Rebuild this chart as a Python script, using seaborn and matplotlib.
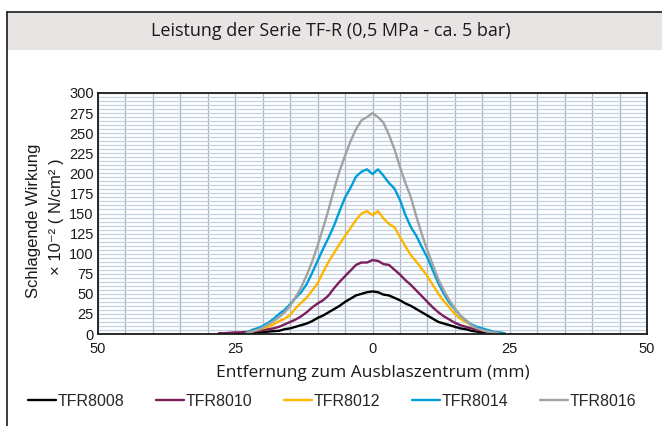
import numpy as np
import pandas as pd
import matplotlib
matplotlib.use('Agg')
import matplotlib.pyplot as plt
import seaborn as sns
from matplotlib.patches import Rectangle
from matplotlib.lines import Line2D

# Distance to the blow-off centre (mm), shared sampling grid
dist_mm = [-28, -27, -26, -25, -24, -23, -22, -21, -20, -19, -18, -17, -16, -15,
           -14, -13, -12, -11, -10, -9, -8, -7, -6, -5, -4, -3, -2, -1, 0,
           1, 2, 3, 4, 5, 6, 7, 8, 9, 10, 11, 12, 13, 14, 15, 16, 17, 18, 19,
           20, 21, 22, 23, 24]

N = None
# Impact force x 10^-2 N/cm2
tfr8008 = [N, N, N, 0.5, 0.5, 1, 1.5, 2, 2, 3, 3.5, 4, 6, 7, 9, 11, 13, 16, 20, 23,
           27, 31, 35, 40, 44, 48, 50, 52, 53, 52, 49, 48, 45, 42, 38, 35, 31, 27,
           23, 19, 15, 13, 11, 9, 7, 6, 4, 3, 2, 1.5, 1, 0.5, N]
tfr8010 = [1, 1, 1.5, 2, 2, 2.5, 3, 4, 5, 6, 7, 9, 12, 15, 18, 22, 27, 33, 38, 42,
           48, 57, 65, 72, 79, 86, 89, 89, 92, 91, 87, 86, 80, 74, 67, 61, 54, 47,
           40, 33, 27, 22, 18, 14, 11, 9, 7, 5, 4, 3, 2, 1.5, 1]
tfr8012 = [N, N, N, N, N, 1, 3, 5, 7, 9, 12, 16, 19, 24, 32, 39, 45, 54, 63, 77,
           90, 101, 112, 122, 132, 142, 150, 153, 148, 153, 144, 137, 133, 121, 109,
           98, 90, 81, 72, 61, 50, 41, 33, 25, 19, 15, 11, 8, 5, 3, 2, 1, N]
tfr8014 = [N, N, N, N, N, 1, 5, 7, 10, 14, 19, 25, 30, 37, 45, 52, 62, 76, 91, 106,
           120, 135, 153, 170, 182, 196, 202, 205, 199, 205, 197, 188, 181, 167, 148,
           133, 122, 108, 95, 79, 63, 50, 39, 31, 23, 17, 12, 9, 7, 5, 3, 2, 1]
tfr8016 = [N, N, N, N, N, 1, 3, 5, 8, 12, 16, 21, 27, 35, 46, 58, 73, 90, 110, 132,
           155, 180, 203, 222, 240, 255, 266, 270, 275, 270, 263, 248, 230, 208, 188,
           170, 146, 124, 104, 86, 68, 54, 42, 32, 23, 17, 11, 7, 5, 3, 2, 1, N]

series_names = ['TFR8008', 'TFR8010', 'TFR8012', 'TFR8014', 'TFR8016']
series_colors = ['#000000', '#7A1E5C', '#FFB600', '#009FDA', '#A3A3A3']
x_tick_pos = [-50, -25, 0, 25, 50]
x_tick_labels = ['50', '25', '0', '25', '50']
y_ticks = [0, 25, 50, 75, 100, 125, 150, 175, 200, 225, 250, 275, 300]

# Long table for seaborn
frames = []
for name, vals in zip(series_names, [tfr8008, tfr8010, tfr8012, tfr8014, tfr8016]):
    frames.append(pd.DataFrame({'x': dist_mm, 'y': vals, 'Serie': name}))
df = pd.concat(frames, ignore_index=True)
df['y'] = pd.to_numeric(df['y'])
df = df.dropna()

sns.set_style('white')
plt.rcParams['font.family'] = ['Liberation Sans', 'DejaVu Sans']

W, H = 662, 426
fig = plt.figure(figsize=(W / 100, H / 100), dpi=100)
ax = fig.add_axes([98 / W, 1 - 334 / H, (647 - 98) / W, (334 - 93) / H])

# outer frame and title band
fig.patches.append(Rectangle((7 / W, 1 - 50 / H), 1, 38 / H, transform=fig.transFigure,
                             facecolor='#E9E4E4', edgecolor='none', zorder=0))
fig.lines.append(Line2D([7 / W, 7 / W], [0, 1 - 12 / H], transform=fig.transFigure,
                        color='#1a1a1a', lw=1.2))
fig.lines.append(Line2D([7 / W, 1], [1 - 12 / H, 1 - 12 / H], transform=fig.transFigure,
                        color='#1a1a1a', lw=1.2))
fig.text(331 / W, 1 - 31 / H, 'Leistung der Serie TF-R (0,5 MPa - ca. 5 bar)',
         ha='center', va='center', fontsize=13, family=['Open Sans', 'DejaVu Sans'],
         color='#1a1a1a')

sns.lineplot(data=df, x='x', y='y', hue='Serie', hue_order=series_names,
             palette=series_colors, lw=1.7, ax=ax, sort=True, estimator=None)

ax.set_xlim(-50, 50)
ax.set_ylim(0, 300)
ax.set_xticks(x_tick_pos)
ax.set_xticklabels(x_tick_labels)
ax.set_yticks(y_ticks)
ax.set_xticks(np.arange(-50, 51, 5), minor=True)
ax.set_yticks(np.arange(0, 301, 5), minor=True)
ax.tick_params(axis='both', which='both', length=0, labelsize=10.5, colors='#1a1a1a')
ax.tick_params(axis='x', pad=6)
ax.tick_params(axis='y', pad=3)
ax.xaxis.grid(True, which='both', color='#A9B1BA', lw=0.9)
ax.yaxis.grid(True, which='both', color='#C3D2E2', lw=0.9)
ax.set_axisbelow(True)
for sp in ax.spines.values():
    sp.set_color('#1a1a1a')
    sp.set_linewidth(1.3)

ax.set_xlabel('Entfernung zum Ausblaszentrum (mm)', fontsize=12.5,
              family=['Open Sans', 'DejaVu Sans'], labelpad=6, color='#1a1a1a')
ax.set_ylabel('')
fig.text(34 / W, 1 - 221 / H, 'Schlagende Wirkung', rotation=90, ha='center',
         va='center', fontsize=12, color='#1a1a1a')
fig.text(57 / W, 1 - 217 / H, '× 10⁻² ( N/cm² )', rotation=90, ha='center',
         va='center', fontsize=12, color='#1a1a1a')

sns.move_legend(ax, 'center', bbox_to_anchor=(332 / W, 1 - 401 / H),
                bbox_transform=fig.transFigure, ncol=5, frameon=False, title=None,
                fontsize=11.5, handlelength=1.75, handletextpad=0.1,
                columnspacing=2.0, borderpad=0, borderaxespad=0)

plt.savefig('out.png', dpi=100)
